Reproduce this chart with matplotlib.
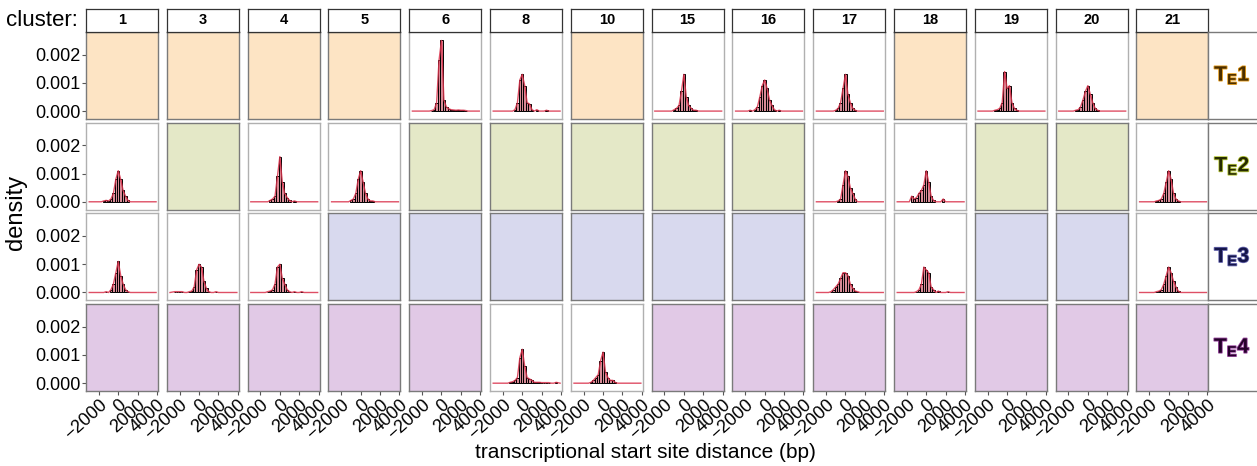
import numpy as np
import matplotlib
matplotlib.use("Agg")
from matplotlib import pyplot as plt
import matplotlib.patheffects as pe

plt.rcParams['font.family'] = ['Liberation Sans', 'DejaVu Sans']

# clusters along the top, row groups on the right
clusters = ['1', '3', '4', '5', '6', '8', '10', '15', '16', '17', '18', '19', '20', '21']
row_labels = ['1', '2', '3', '4']
bin_width = 250
bin_centers = np.arange(-2500, 3501, bin_width)  # 25 bins

# densities in units of 1e-4, one list per panel that has data
te1_c6 = [0, 0, 0, 0, 0, 0, 0.2, 0.5, 3, 18, 25, 4, 1.5, 0.8, 0.5, 0.4, 0.3, 0.4, 0.3, 0.3, 0.2, 0, 0, 0, 0]
te1_c8 = [0, 0, 0, 0, 0, 0, 0, 0.5, 3, 11, 13, 9, 3, 2.5, 0.5, 0, 0.5, 0, 0, 0, 0.3, 0, 0, 0, 0]
te1_c15 = [0, 0, 0, 0, 0, 0, 0.5, 1, 2, 7, 13, 5, 2, 1, 0.3, 0.3, 0, 0, 0, 0, 0, 0, 0, 0, 0]
te1_c16 = [0, 0, 0, 0, 0.3, 0, 0.5, 1.5, 5, 9, 11, 8, 4, 2, 0.5, 0, 0.3, 0, 0, 0, 0, 0, 0, 0, 0]
te1_c17 = [0, 0, 0, 0, 0, 0, 0.3, 1, 3, 8, 13, 6, 3, 1, 0.3, 0, 0, 0, 0, 0, 0, 0, 0, 0, 0]
te1_c19 = [0, 0, 0, 0, 0, 0.3, 0.5, 1, 3, 14, 8, 9, 3, 1, 0.3, 0, 0, 0, 0, 0, 0, 0, 0, 0, 0]
te1_c20 = [0, 0, 0, 0, 0, 0.3, 0.5, 1.5, 4, 7, 9, 6, 3, 1, 0.3, 0, 0, 0, 0, 0, 0, 0, 0, 0, 0]

te2_c1 = [0, 0, 0, 0, 0.3, 0.5, 0.3, 1, 3, 8, 11, 8, 4, 2, 0.5, 0, 0, 0, 0, 0, 0, 0, 0, 0, 0]
te2_c4 = [0, 0, 0, 0, 0, 0, 0.5, 1, 2, 9, 16, 7, 3, 1.5, 0.5, 0, 0.3, 0, 0, 0, 0, 0, 0, 0, 0]
te2_c5 = [0, 0, 0, 0, 0, 0, 0.5, 1, 3, 8, 11, 7, 3, 1, 0.3, 0.3, 0, 0, 0, 0, 0, 0, 0, 0, 0]
te2_c17 = [0, 0, 0, 0, 0, 0, 0, 0.3, 1, 6, 11, 9, 5, 3, 1, 0, 0, 0, 0, 0, 0, 0, 0, 0, 0]
te2_c18 = [0, 0, 0, 0, 2, 1, 1.5, 3, 4, 6, 11, 7, 2, 0.5, 0, 0, 0, 1, 0, 0, 0, 0, 0, 0, 0]
te2_c21 = [0, 0, 0, 0, 0, 0.3, 0.5, 1, 3, 7, 11, 8, 3, 1, 0.3, 0, 0, 0, 0, 0, 0, 0, 0, 0, 0]

te3_c1 = [0, 0, 0, 0, 0, 0.3, 0, 1, 3, 7, 11, 6, 3, 1, 0.3, 0, 0, 0, 0, 0, 0, 0, 0, 0, 0]
te3_c3 = [0.3, 0.3, 0.3, 0.3, 0, 0, 0.3, 0.5, 2, 8, 10, 9, 4, 1.5, 0.3, 0, 0, 0.3, 0, 0, 0, 0, 0, 0, 0]
te3_c4 = [0, 0, 0, 0, 0, 0.3, 0.5, 1, 3, 9, 10, 5, 3, 1, 0.3, 0, 0.3, 0, 0, 0.3, 0, 0, 0, 0, 0]
te3_c17 = [0, 0, 0, 0, 0.3, 1, 2, 3, 5, 7, 7, 6, 3, 1.5, 0.5, 0.3, 0, 0, 0, 0, 0, 0, 0, 0, 0]
te3_c18 = [0, 0, 0, 0, 0, 0, 0.3, 1, 3, 9, 8, 7, 2, 1, 0, 0.5, 0, 0, 0, 0.3, 0, 0, 0, 0, 0]
te3_c21 = [0, 0, 0, 0, 0, 0.3, 0.5, 1, 3, 6, 9, 7, 4, 2, 0.5, 0, 0, 0, 0, 0, 0, 0, 0, 0, 0]

te4_c8 = [0, 0, 0, 0, 0, 0.3, 0.5, 1, 2, 9, 12, 6, 2, 1.5, 1, 0.3, 0.3, 0.3, 0.2, 0.2, 0.2, 0.2, 0, 0, 0.3]
te4_c10 = [0, 0, 0, 0, 0, 0.3, 1, 2, 3, 8, 11, 4, 2, 1, 1, 0.3, 0, 0, 0, 0, 0, 0, 0, 0, 0]

panels = {
    (0, '6'): te1_c6, (0, '8'): te1_c8, (0, '15'): te1_c15, (0, '16'): te1_c16,
    (0, '17'): te1_c17, (0, '19'): te1_c19, (0, '20'): te1_c20,
    (1, '1'): te2_c1, (1, '4'): te2_c4, (1, '5'): te2_c5, (1, '17'): te2_c17,
    (1, '18'): te2_c18, (1, '21'): te2_c21,
    (2, '1'): te3_c1, (2, '3'): te3_c3, (2, '4'): te3_c4, (2, '17'): te3_c17,
    (2, '18'): te3_c18, (2, '21'): te3_c21,
    (3, '8'): te4_c8, (3, '10'): te4_c10,
}

empty_fill = ['#fde4c4', '#e4e8c7', '#d8d9ee', '#e1c9e6']
label_text = ['#4a2e00', '#262a00', '#15154a', '#25002a']
label_glow = ['#e39a1a', '#b8c840', '#6a6ab0', '#9a4aa0']

W, H = 1257, 466
fig = plt.figure(figsize=(W / 100, H / 100), dpi=100)

def box(x, y, w, h):
    return [x / W, 1 - (y + h) / H, w / W, h / H]

left0, pitch_x, pw = 86, 80.8, 72
top0, pitch_y, ph = 32, 90.7, 87

for r in range(4):
    for c, cl in enumerate(clusters):
        ax = fig.add_axes(box(left0 + c * pitch_x, top0 + r * pitch_y, pw, ph))
        ax.set_xlim(-3330, 4100)
        ax.set_ylim(-0.00028, 0.0028)
        ax.set_xticks([-2000, 0, 2000, 4000])
        ax.set_yticks([0, 0.001, 0.002])
        vals = panels.get((r, cl))
        if vals is None:
            ax.set_facecolor(empty_fill[r])
            edge = '#7a7a7a'
        else:
            edge = '#b0b0b0'
            v = np.array(vals) * 1e-4
            m = v > 0
            ax.bar(bin_centers[m], v[m], width=bin_width, facecolor='#d88a96',
                   edgecolor='black', linewidth=0.7, zorder=2)
            lx = np.concatenate([[-3000], bin_centers, [3900]])
            ly = np.concatenate([[0], v, [0]])
            ax.plot(lx, ly, color='#d9304a', lw=1.0, alpha=0.85, zorder=3)
        for s in ax.spines.values():
            s.set_color(edge)
            s.set_linewidth(1.0)
        ax.tick_params(length=3, width=0.8, color='#555555', labelsize=13, pad=1)
        if c == 0:
            ax.set_yticklabels(['0.000', '0.001', '0.002'])
        else:
            ax.tick_params(axis='y', left=False, labelleft=False)
        if r == 3:
            ax.set_xticklabels(['\u22122000', '0', '2000', '4000'], rotation=42,
                               ha='right', rotation_mode='anchor')
        else:
            ax.tick_params(axis='x', bottom=False, labelbottom=False)

        if r == 0:
            sa = fig.add_axes(box(left0 + c * pitch_x, 9, pw, 23))
            sa.set_xticks([])
            sa.set_yticks([])
            for s in sa.spines.values():
                s.set_color('#333333')
                s.set_linewidth(0.9)
            sa.text(0.5, 0.5, cl, ha='center', va='center', fontsize=10.5,
                    fontweight='bold', transform=sa.transAxes)

    # row label box on the right
    la = fig.add_axes(box(left0 + 13 * pitch_x + pw, top0 + r * pitch_y, 60, ph))
    la.set_xticks([])
    la.set_yticks([])
    for s in la.spines.values():
        s.set_color('#7a7a7a')
        s.set_linewidth(1.0)
    t = la.text(24 / 60, 0.5, r'T$_\mathregular{E}$' + row_labels[r], ha='center',
                va='center', fontsize=15, fontweight='bold', color=label_text[r],
                transform=la.transAxes)
    t.set_path_effects([pe.withStroke(linewidth=1.2, foreground=label_glow[r])])

fig.text(78 / W, 1 - 20 / H, 'cluster:', ha='right', va='center', fontsize=16)
fig.text(16 / W, 1 - 212 / H, 'density', ha='center', va='center', fontsize=17,
         rotation=90)
fig.text(645 / W, 1 - 452 / H, 'transcriptional start site distance (bp)',
         ha='center', va='center', fontsize=15)

fig.savefig('out.png', dpi=100)
